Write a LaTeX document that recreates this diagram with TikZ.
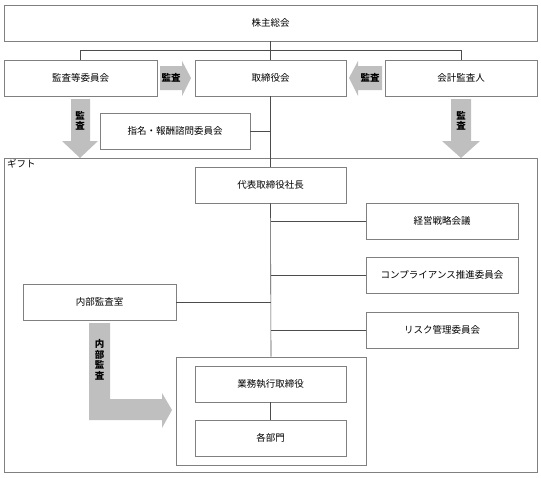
\documentclass[tikz,border=0pt]{standalone}
\usepackage{fontspec}
\setmainfont{Noto Sans CJK JP}
\begin{document}
\begin{tikzpicture}[x=1pt,y=-1pt,
  box/.style={draw=black!50,line width=0.8pt,fill=white,minimum height=36pt,inner sep=0pt,font=\fontsize{9.5}{11}\selectfont},
  conn/.style={draw=black!70,line width=0.6pt},
  garrow/.style={fill=black!25,draw=none},
  lab/.style={font=\fontsize{9.5}{10.5}\selectfont\bfseries,align=center,inner sep=0pt}]
\useasboundingbox (0,0) rectangle (541,477);
% outer group box
\node[draw=black!50,line width=0.8pt,minimum width=533pt,minimum height=314pt,inner sep=0pt] (gift) at (270.5,315) {};
\node[anchor=north west,inner sep=0pt,font=\fontsize{9.5}{11}\selectfont] (giftlab) at (7,159) {ギフト};
% nodes
\node[box,minimum width=533pt] (sh) at (270.5,23) {株主総会};
\node[box,minimum width=153pt] (kansa) at (80.5,78) {監査等委員会};
\node[box,minimum width=151pt] (tori) at (270.5,78) {取締役会};
\node[box,minimum width=152pt] (kaikei) at (461,78) {会計監査人};
\node[box,minimum width=150pt] (shimei) at (175,131) {指名・報酬諮問委員会};
\node[box,minimum width=151pt] (daihyo) at (270.5,185) {代表取締役社長};
\node[box,minimum width=152pt] (keiei) at (442,221) {経営戦略会議};
\node[box,minimum width=152pt] (comp) at (442,275) {コンプライアンス推進委員会};
\node[box,minimum width=152pt] (risk) at (442,330) {リスク管理委員会};
\node[box,minimum width=153pt] (naibu) at (99.5,302) {内部監査室};
\node[draw=black!50,line width=0.8pt,minimum width=190pt,minimum height=108pt,inner sep=0pt] (cont) at (271,411) {};
\node[box,minimum width=151pt] (gyomu) at (270.5,384) {業務執行取締役};
\node[box,minimum width=151pt] (kakubu) at (270.5,438) {各部門};
% connectors
\coordinate (j) at (270.5,50);
\draw[conn] (sh.south) -- (tori.north);
\draw[conn] (kansa.north) |- (kaikei.north |- j) -- (kaikei.north);
\draw[conn] (tori.south) -- (daihyo.north);
\draw[conn] (shimei.east) -- (shimei.east -| tori.south);
\draw[conn] (daihyo.south) -- (cont.north);
\draw[conn] (keiei.west) -- (keiei.west -| daihyo.south);
\draw[conn] (comp.west) -- (comp.west -| daihyo.south);
\draw[conn] (risk.west) -- (risk.west -| daihyo.south);
\draw[conn] (naibu.east) -- (naibu.east -| daihyo.south);
\draw[conn] (gyomu.south) -- (kakubu.north);
% block arrows
\fill[garrow] (160,66) -- (182,66) -- (182,61) -- (191,78) -- (182,96) -- (182,90) -- (160,90) -- cycle;
\node[lab] (l1) at (171,78) {監査};
\fill[garrow] (382,66) -- (358,66) -- (358,61) -- (349,78) -- (358,96) -- (358,90) -- (382,90) -- cycle;
\node[lab] (l2) at (370,78) {監査};
\fill[garrow] (71,99) -- (90,99) -- (90,141) -- (98,141) -- (80,158) -- (62,141) -- (71,141) -- cycle;
\node[lab] (l3) at (80,121) {監\\査};
\fill[garrow] (451,99) -- (471,99) -- (471,141) -- (480,141) -- (461,158) -- (442,141) -- (451,141) -- cycle;
\node[lab] (l4) at (461,121) {監\\査};
\fill[garrow] (89,323) -- (110,323) -- (110,399) -- (162,399) -- (162,393) -- (172,410) -- (162,428) -- (162,420) -- (89,420) -- cycle;
\node[lab] (l5) at (99.5,360) {内\\部\\監\\査};
\end{tikzpicture}
\end{document}
